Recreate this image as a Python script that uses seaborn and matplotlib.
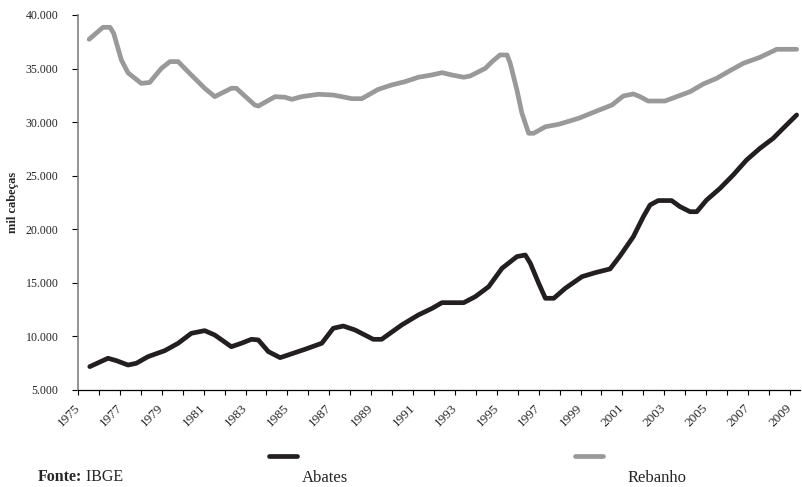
import matplotlib
matplotlib.use('Agg')
import matplotlib.pyplot as plt
from matplotlib.lines import Line2D
from matplotlib.ticker import FuncFormatter, MultipleLocator
import pandas as pd
import seaborn as sns

# valores (mil cabecas)
abates_anos = [1975.56, 1976.43, 1976.83, 1977.39, 1977.78, 1978.34, 1979.14, 1979.78,
               1980.41, 1981.05, 1981.53, 1982.32, 1982.8, 1983.28, 1983.61, 1984.09,
               1984.65, 1985.04, 1985.84, 1986.64, 1987.19, 1987.67, 1988.23, 1989.1,
               1989.5, 1990.46, 1991.25, 1991.91, 1992.38, 1993.42, 1993.97, 1994.61,
               1995.25, 1995.96, 1996.36, 1996.6, 1997.0, 1997.32, 1997.72, 1998.27,
               1999.07, 1999.7, 2000.41, 2000.88, 2001.52, 2002.0, 2002.32, 2002.71,
               2003.35, 2003.75, 2004.23, 2004.55, 2005.02, 2005.66, 2006.29, 2006.93,
               2007.57, 2008.2, 2008.68, 2009.32]
abates_valores = [7180, 7960, 7740, 7330, 7490, 8110, 8670, 9360,
                  10290, 10540, 10130, 9040, 9360, 9730, 9670, 8580,
                  8020, 8270, 8800, 9360, 10760, 10970, 10600, 9730,
                  9730, 11070, 12000, 12620, 13150, 13150, 13710, 14640,
                  16360, 17450, 17600, 16830, 14960, 13560, 13560, 14490,
                  15580, 15950, 16300, 17500, 19310, 21180, 22270, 22680,
                  22680, 22110, 21640, 21640, 22730, 23820, 25070, 26470,
                  27560, 28490, 29430, 30670]

rebanho_anos = [1975.53, 1976.19, 1976.53, 1976.7, 1977.07, 1977.39, 1978.02, 1978.42,
                1978.98, 1979.39, 1979.78, 1980.41, 1981.05, 1981.53, 1982.32, 1982.56,
                1983.44, 1983.61, 1984.41, 1984.89, 1985.21, 1985.68, 1986.48, 1987.19,
                1987.75, 1988.07, 1988.55, 1989.34, 1989.98, 1990.62, 1991.25, 1991.89,
                1992.38, 1992.86, 1993.42, 1993.73, 1994.45, 1994.77, 1995.15, 1995.49,
                1995.64, 1995.96, 1996.2, 1996.52, 1996.76, 1997.32, 1997.96, 1998.91,
                1999.7, 2000.5, 2001.04, 2001.52, 2001.84, 2002.23, 2003.03, 2003.59,
                2004.23, 2004.86, 2005.5, 2006.14, 2006.77, 2007.57, 2008.37, 2009.32]
rebanho_valores = [37730, 38850, 38850, 38300, 35800, 34600, 33620, 33700,
                   35020, 35650, 35650, 34400, 33160, 32380, 33160, 33160,
                   31600, 31500, 32380, 32320, 32130, 32380, 32600, 32530,
                   32320, 32190, 32190, 33060, 33470, 33780, 34190, 34400,
                   34620, 34400, 34190, 34310, 35020, 35640, 36270, 36270,
                   35490, 33000, 30830, 28960, 28960, 29570, 29800, 30360,
                   30980, 31600, 32440, 32630, 32380, 31970, 31970, 32380,
                   32840, 33560, 34090, 34810, 35490, 36050, 36800, 36800]

series = ['Abates', 'Rebanho']
cores = {'Abates': '#231f20', 'Rebanho': '#999999'}
anos_rotulo = list(range(1975, 2010, 2))

df = pd.concat([
    pd.DataFrame({'ano': abates_anos, 'valor': abates_valores, 'serie': 'Abates'}),
    pd.DataFrame({'ano': rebanho_anos, 'valor': rebanho_valores, 'serie': 'Rebanho'}),
])

sns.set_style('white')
plt.rcParams['font.family'] = ['Liberation Serif', 'DejaVu Serif']

fig = plt.figure(figsize=(8.02, 4.87), dpi=100)
ax = fig.add_axes([0.0973, 0.1992, 0.9002, 0.770])

sns.lineplot(data=df, x='ano', y='valor', hue='serie', palette=cores,
             hue_order=series, linewidth=3.4, legend=False, ax=ax,
             estimator=None, sort=True)

ax.set_xlim(1975, 2009.48)
ax.set_ylim(5000, 40000)
ax.yaxis.set_major_locator(MultipleLocator(5000))
ax.yaxis.set_major_formatter(FuncFormatter(lambda v, p: f'{v:,.0f}'.replace(',', '.')))
ax.xaxis.set_minor_locator(MultipleLocator(1))
ax.set_xticks(anos_rotulo)
ax.set_xticklabels([str(a) for a in anos_rotulo], rotation=45, ha='right',
                   va='center', rotation_mode='anchor')

ax.tick_params(axis='y', which='major', direction='out', length=4, width=0.8,
               color='black', pad=10, labelsize=8.6, left=True)
ax.tick_params(axis='x', which='both', direction='out', length=3.5, width=0.8,
               color='black', bottom=True)
ax.tick_params(axis='x', which='major', pad=8, labelsize=9.5)

for lado in ['top', 'right']:
    ax.spines[lado].set_visible(False)
ax.spines['left'].set_color('#808080')
ax.spines['left'].set_linewidth(1.2)
ax.spines['bottom'].set_color('black')
ax.spines['bottom'].set_linewidth(0.9)

ax.set_xlabel('')
ax.set_ylabel('mil cabeças', fontsize=9, fontweight='bold', labelpad=5)

# legenda: amostra de linha acima do texto
for serie, x0, xt in [('Abates', 0.3354, 0.3766), ('Rebanho', 0.717, 0.783)]:
    fig.add_artist(Line2D([x0, x0 + 0.035], [0.0637, 0.0637], color=cores[serie],
                          linewidth=3.4, transform=fig.transFigure))
    fig.text(xt, 0.0185, serie, fontsize=12, ha='left', va='center')

fonte = fig.text(0.0474, 0.004, 'Fonte:', fontsize=11.5, fontweight='bold',
                 ha='left', va='bottom')
ax.annotate(' IBGE', xy=(1, 0), xycoords=fonte, fontsize=11.5,
            ha='left', va='bottom', annotation_clip=False)

fig.savefig('out.png', dpi=100)
plt.close(fig)
